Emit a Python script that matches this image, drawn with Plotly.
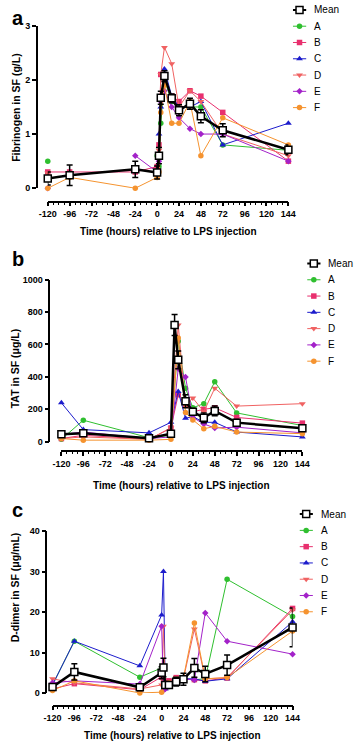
import plotly.graph_objects as go

# ---------------- data ----------------
TIMES = [-120, -96, -24, 0, 2, 4, 8, 16, 24, 36, 48, 72, 144]
X_TICKS = [-120, -96, -72, -48, -24, 0, 24, 48, 72, 96, 120, 144]
X_TICK_LABELS = ["-120", "-96", "-72", "-48", "-24", "0", "24", "48", "72", "96", "120", "144"]
SERIES = ["A", "B", "C", "D", "E", "F"]
LEGEND_NAMES = ["Mean", "A", "B", "C", "D", "E", "F"]

# Fibrinogen in SF (g/L)
FIB_MEAN = [0.18, 0.24, 0.35, 0.29, 0.60, 1.67, 2.07, 1.66, 1.44, 1.56, 1.33, 1.07, 0.71]
FIB_SEM = [0.12, 0.19, 0.15, 0.12, 0.15, 0.12, 0.10, 0.08, 0.10, 0.10, 0.12, 0.12, 0.09]
FIB_A = [0.5, None, None, 0.6, 0.4, 1.2, 2.0, 1.6, 1.5, 1.5, 1.5, 0.8, 0.7]
FIB_B = [0.3, 0.3, 0.3, 0.4, 0.8, 2.1, 2.0, 1.7, 1.6, 1.8, 1.7, 1.4, 0.5]
FIB_C = [None, None, None, 0.3, 1.0, 1.5, 2.2, 1.7, 1.5, 1.5, 1.6, 0.8, 1.2]
FIB_D = [0.28, None, None, 0.3, 0.7, 2.1, 2.6, 2.3, 1.5, 1.8, 1.6, 1.0, 0.6]
FIB_E = [0.0, None, 0.6, 0.3, 0.5, 1.6, 1.8, 1.5, 1.3, 1.1, 1.0, 1.0, 0.5]
FIB_F = [0.0, 0.2, 0.0, 0.2, 0.3, 1.4, 1.9, 1.2, 1.2, 1.6, 0.6, 1.3, 0.8]

# TAT in SF (ug/L)
TAT_MEAN = [47, 52, 22, 50, None, 720, 505, 250, 185, 148, 190, 118, 83]
TAT_SEM = [12, 15, 8, 15, None, 65, 55, 40, 20, 30, 30, 20, 15]
TAT_A = [15, 133, 25, 40, None, None, 620, 330, 210, 235, 370, 178, 100]
TAT_B = [20, 40, 15, 85, None, None, 290, 225, 185, 200, 210, 150, 115]
TAT_C = [240, 75, 55, 120, None, None, 310, 145, 155, 120, 120, 60, 30]
TAT_D = [20, 30, 15, 85, None, None, 720, 220, 270, 185, 330, 220, 235]
TAT_E = [45, 60, 20, 30, None, None, 450, 400, 150, 110, 85, 90, 55]
TAT_F = [20, 10, 10, 15, None, None, 640, 180, 135, 80, 95, 60, 50]

# D-dimer in SF (ug/mL)
DD_MEAN = [1.5, 5.2, 1.4, 5.0, 6.3, 2.0, 2.0, 2.8, 3.4, 6.2, 4.7, 6.9, 16.2]
DD_SEM = [0.8, 2.0, 0.8, 1.5, 2.3, 0.8, 0.8, 1.1, 1.5, 2.3, 1.9, 2.5, 4.8]
DD_A = [2.0, 12.8, 3.9, 6.2, 3.5, 2.0, 2.5, 3.5, 3.5, 3.3, 3.5, 28.1, 18.9]
DD_B = [1.0, 2.3, 0.8, 4.0, 3.0, 2.5, 3.0, 3.8, 3.5, 3.3, 3.0, 3.7, 20.9]
DD_C = [2.0, 12.8, 6.7, 19.3, 30.0, 1.0, 2.0, 3.0, 3.5, 3.5, 2.9, 3.5, 17.6]
DD_D = [3.5, 2.5, 1.0, 2.0, 16.5, 2.0, 2.5, 3.8, 3.5, 15.8, 3.5, 3.8, 20.5]
DD_E = [2.5, 3.0, 2.2, 16.5, 0.7, 1.0, 2.0, 3.2, 3.5, 3.2, 19.8, 12.8, 9.6]
DD_F = [0.6, 3.0, 0.0, 0.2, 2.0, 2.0, 2.5, 2.5, 3.8, 17.3, 3.5, 3.8, 15.3]

PANEL_LETTERS = ["a", "b", "c"]
Y_TITLES = ["Fibrinogen in SF (g/L)", "TAT in SF (\u03bcg/L)", "D-dimer in SF (\u03bcg/mL)"]
X_TITLE = "Time (hours) relative to LPS injection"
Y_MAX = [3, 1000, 40]
Y_DTICK = [1, 200, 10]
X_MINOR = 6

# ---------------- styles ----------------
W, H = 358, 748
COLORS = {"A": "#2fbf2f", "B": "#e8306e", "C": "#1c1ccc", "D": "#f06262", "E": "#a322c9", "F": "#f5932f"}
SYMBOLS = {"A": "circle", "B": "square", "C": "triangle-up", "D": "triangle-down", "E": "diamond", "F": "circle"}
MSIZE = {"A": 5.5, "B": 5.5, "C": 6, "D": 6, "E": 5, "F": 5.5}
FONT = "Liberation Sans, Arial, sans-serif"

# panel geometry in pixels
GEOM = [
    dict(x0=40.7, x1=293.3, yt=21.0, yb=185.7, xline=199.3, yline=29.3, xt=230, yt_c=104,
         leg_x=298, leg_y=5.0, label_y=0),
    dict(x0=55.0, x1=308.0, yt=278.3, yb=442.7, xline=452.0, yline=42.3, xt=486.7, yt_c=368,
         leg_x=313, leg_y=262.0, label_y=244),
    dict(x0=45.7, x1=297.7, yt=533.3, yb=697.3, xline=710.0, yline=39.3, xt=740, yt_c=590,
         leg_x=305, leg_y=516.0, label_y=499),
]
LEG_STEP = 16.5

def px_x(p):
    return p / W

def px_y(p):
    return 1 - p / H

data_sets = [
    (FIB_MEAN, FIB_SEM, [FIB_A, FIB_B, FIB_C, FIB_D, FIB_E, FIB_F], False),
    (TAT_MEAN, TAT_SEM, [TAT_A, TAT_B, TAT_C, TAT_D, TAT_E, TAT_F], True),
    (DD_MEAN, DD_SEM, [DD_A, DD_B, DD_C, DD_D, DD_E, DD_F], False),
]

fig = go.Figure()
layout = dict(
    width=W, height=H, autosize=False,
    margin=dict(l=0, r=0, t=0, b=0, pad=0),
    paper_bgcolor="white", plot_bgcolor="white",
    showlegend=False,
    font=dict(family=FONT, color="black"),
)
annotations = []

for i, (mean, sem, indiv, gaps) in enumerate(data_sets):
    g = GEOM[i]
    xa = "x" if i == 0 else f"x{i+1}"
    ya = "y" if i == 0 else f"y{i+1}"
    xk = "xaxis" if i == 0 else f"xaxis{i+1}"
    yk = "yaxis" if i == 0 else f"yaxis{i+1}"

    for name, vals in zip(SERIES, indiv):
        fig.add_trace(go.Scatter(
            x=TIMES, y=vals, mode="lines+markers", name=name,
            xaxis=xa, yaxis=ya, connectgaps=gaps, cliponaxis=False,
            line=dict(color=COLORS[name], width=1),
            marker=dict(symbol=SYMBOLS[name], size=MSIZE[name], color=COLORS[name], line=dict(width=0)),
        ))
    fig.add_trace(go.Scatter(
        x=TIMES, y=mean, mode="lines+markers", name="Mean",
        xaxis=xa, yaxis=ya, connectgaps=True, cliponaxis=False,
        line=dict(color="black", width=2.5),
        marker=dict(symbol="square", size=7, color="white", line=dict(color="black", width=1.5)),
        error_y=dict(type="data", array=sem, visible=True, color="black", thickness=1.5, width=3),
    ))

    layout[xk] = dict(
        domain=[px_x(g["x0"]), px_x(g["x1"])], range=[TIMES[0], TIMES[-1]],
        anchor="free", position=px_y(g["xline"]),
        showline=True, linecolor="black", linewidth=1.5,
        ticks="outside", ticklen=4, tickwidth=1.5, tickcolor="black",
        tickmode="array", tickvals=X_TICKS, ticktext=X_TICK_LABELS,
        minor=dict(ticks="outside", dtick=X_MINOR, tick0=X_TICKS[0], ticklen=2.5, tickwidth=1, tickcolor="black"),
        showgrid=False, zeroline=False,
        tickfont=dict(family=FONT, size=9, color="black", weight="bold"),
    )
    layout[yk] = dict(
        domain=[px_y(g["yb"]), px_y(g["yt"])], range=[0, Y_MAX[i]],
        anchor="free", position=px_x(g["yline"]),
        showline=True, linecolor="black", linewidth=1.5,
        ticks="outside", ticklen=4, tickwidth=1.5, tickcolor="black",
        tickmode="linear", tick0=0, dtick=Y_DTICK[i],
        showgrid=False, zeroline=False,
        tickfont=dict(family=FONT, size=9, color="black", weight="bold"),
    )

    annotations.append(dict(
        text=X_TITLE, xref="paper", yref="paper",
        x=px_x((g["x0"] + g["x1"]) / 2), y=px_y(g["xt"]),
        xanchor="center", yanchor="middle", showarrow=False,
        font=dict(family=FONT, size=10, color="black", weight="bold"),
    ))
    annotations.append(dict(
        text=Y_TITLES[i], xref="paper", yref="paper", textangle=-90,
        x=px_x(6.5), y=px_y(g["yt_c"]),
        xanchor="center", yanchor="middle", showarrow=False,
        font=dict(family=FONT, size=10.5, color="black", weight="bold"),
    ))
    annotations.append(dict(
        text=PANEL_LETTERS[i], xref="paper", yref="paper",
        x=px_x(1), y=px_y(g["label_y"]),
        xanchor="left", yanchor="top", showarrow=False,
        font=dict(family=FONT, size=20, color="black", weight="bold"),
    ))

    # legend drawn on its own hidden axes
    lx = f"x{i+4}"
    ly = f"y{i+4}"
    top_px = max(g["leg_y"] - 0.3 * LEG_STEP, 0.0)
    bot_px = g["leg_y"] + 6.3 * LEG_STEP
    leg_w = W - g["leg_x"]
    layout[f"xaxis{i+4}"] = dict(domain=[px_x(g["leg_x"]), 1], range=[0, leg_w], visible=False, fixedrange=True)
    layout[f"yaxis{i+4}"] = dict(domain=[px_y(bot_px), px_y(top_px)], range=[6.3, -0.3], visible=False, fixedrange=True)
    for k, name in enumerate(LEGEND_NAMES):
        if name == "Mean":
            lcol, lw = "black", 2
            mk = dict(symbol="square", size=7, color="white", line=dict(color="black", width=1.5))
        else:
            lcol, lw = COLORS[name], 1
            mk = dict(symbol=SYMBOLS[name], size=MSIZE[name], color=COLORS[name], line=dict(width=0))
        fig.add_trace(go.Scatter(x=[0, 14], y=[k, k], mode="lines", xaxis=lx, yaxis=ly,
                                 line=dict(color=lcol, width=lw), hoverinfo="skip", cliponaxis=False))
        fig.add_trace(go.Scatter(x=[7], y=[k], mode="markers", xaxis=lx, yaxis=ly,
                                 marker=mk, hoverinfo="skip", cliponaxis=False))
        annotations.append(dict(
            text=name, xref=lx, yref=ly, x=20, y=k, xanchor="left", yanchor="middle",
            showarrow=False, font=dict(family=FONT, size=10, color="black"),
        ))

layout["annotations"] = annotations
fig.update_layout(**layout)

fig.write_html("out.html", config={"displayModeBar": False},
               post_script="document.body.style.margin='0px';")
